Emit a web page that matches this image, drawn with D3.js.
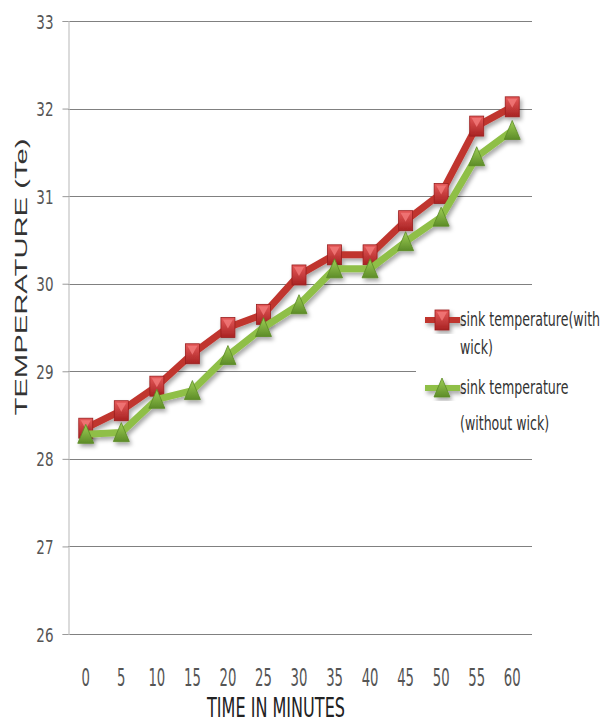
<!DOCTYPE html>
<html>
<head>
<meta charset="utf-8">
<script src="https://cdn.jsdelivr.net/npm/d3@7/dist/d3.min.js"></script>
<style>
  html, body { margin: 0; padding: 0; background: #fff; }
  svg { display: block; }
</style>
</head>
<body>
<svg id="chart" width="608" height="724"></svg>
<script>
// ---- data ----
const categories = ["0", "5", "10", "15", "20", "25", "30", "35", "40", "45", "50", "55", "60"];
const withWick = [28.35, 28.55, 28.83, 29.2, 29.5, 29.65, 30.1, 30.33, 30.33, 30.72, 31.03, 31.8, 32.02];
const withoutWick = [28.28, 28.3, 28.68, 28.78, 29.18, 29.5, 29.76, 30.17, 30.17, 30.48, 30.76, 31.45, 31.75];
const yTicks = [26, 27, 28, 29, 30, 31, 32, 33];
const seriesNames = [["sink temperature(with", "wick)"], ["sink temperature", "(without wick)"]];
const xTitle = "TIME IN MINUTES";
const yTitle = "TEMPERATURE (Te)";

const narrow = "'DejaVu Sans Condensed', 'Liberation Sans Narrow', sans-serif";
const svg = d3.select("#chart");
const x = d3.scaleBand().domain(categories).range([68, 530]);
const y = d3.scaleLinear().domain([26, 33]).range([634, 21]);
const cx = d => x(d) + x.bandwidth() / 2;

const defs = svg.append("defs");
const gR = defs.append("linearGradient").attr("id", "gRed").attr("x1", 0).attr("y1", 0).attr("x2", 0).attr("y2", 1);
gR.append("stop").attr("offset", "0%").attr("stop-color", "#e65a5a");
gR.append("stop").attr("offset", "100%").attr("stop-color", "#a82222");
const gG = defs.append("linearGradient").attr("id", "gGreen").attr("x1", 0).attr("y1", 0).attr("x2", 0).attr("y2", 1);
gG.append("stop").attr("offset", "0%").attr("stop-color", "#9fd056");
gG.append("stop").attr("offset", "100%").attr("stop-color", "#5d8c28");
const sh = defs.append("filter").attr("id", "shadow").attr("x", "-20%").attr("y", "-20%").attr("width", "140%").attr("height", "140%");
sh.append("feDropShadow").attr("dx", 2).attr("dy", 3).attr("stdDeviation", 2).attr("flood-color", "#000").attr("flood-opacity", 0.35);

// gridlines
svg.append("g").selectAll("line").data(yTicks).join("line")
  .attr("x1", 68).attr("x2", 532)
  .attr("y1", d => Math.round(y(d)) + 0.5).attr("y2", d => Math.round(y(d)) + 0.5)
  .attr("stroke", "#808080").attr("stroke-width", 1.2);

// y axis
const yAxis = d3.axisLeft(y).tickValues(yTicks).tickSize(6).tickPadding(9).tickFormat(d3.format("d"));
const gy = svg.append("g").attr("transform", "translate(68.5,0)").call(yAxis);
gy.select(".domain").attr("stroke", "#c4c4c4").attr("stroke-width", 1.2);
gy.selectAll(".tick line").attr("stroke", "#999");
gy.selectAll(".tick text")
  .attr("fill", "#555")
  .style("font-family", narrow)
  .style("font-size", "15px")
  .attr("dy", null)
  .attr("y", 0)
  .attr("transform", "translate(0,7) scale(1,1.3)");

// x axis labels (no line)
const xAxis = d3.axisBottom(x).tickSize(0).tickPadding(0);
const gx = svg.append("g").attr("transform", "translate(0,686)").call(xAxis);
gx.select(".domain").remove();
gx.selectAll(".tick text")
  .attr("fill", "#555")
  .attr("dy", null).attr("y", 0)
  .style("font-family", narrow)
  .style("font-size", "14px")
  .attr("transform", "scale(1.05,1.75)");

// axis titles
svg.append("text")
  .attr("transform", "translate(276,717) scale(1,1.6)")
  .attr("text-anchor", "middle")
  .attr("fill", "#222")
  .attr("textLength", 138).attr("lengthAdjust", "spacingAndGlyphs")
  .style("font-family", narrow)
  .style("font-size", "17px")
  .text(xTitle);

svg.append("text")
  .attr("transform", "translate(27,277) rotate(-90)")
  .attr("text-anchor", "middle")
  .attr("fill", "#333")
  .attr("textLength", 277).attr("lengthAdjust", "spacingAndGlyphs")
  .style("font-family", "'Liberation Sans', Arial, sans-serif")
  .style("font-size", "17px")
  .text(yTitle);

// legend background (breaks gridline)
svg.append("rect").attr("x", 416).attr("y", 300).attr("width", 192).attr("height", 145).attr("fill", "#fff");

// marker drawing
function redMarker(g) {
  g.append("rect").attr("x", -7).attr("y", -10).attr("width", 14).attr("height", 20)
    .attr("fill", "url(#gRed)").attr("stroke", "#9a1e1e").attr("stroke-width", 0.8);
  g.append("path").attr("d", "M-5,-8 L5,-8 L0,1 Z").attr("fill", "#f27a7a").attr("opacity", 0.8);
}
function greenMarker(g) {
  g.append("path").attr("d", "M0,-10 L8,9 L-8,9 Z")
    .attr("fill", "url(#gGreen)").attr("stroke", "#5a8a26").attr("stroke-width", 0.8);
}

const line = d3.line().x((d, i) => cx(categories[i])).y(d => y(d));

const series = [
  { vals: withWick, color: "#c0352f", marker: redMarker },
  { vals: withoutWick, color: "#8fbf47", marker: greenMarker }
];
series.forEach(s => {
  const g = svg.append("g").attr("filter", "url(#shadow)");
  g.append("path").datum(s.vals).attr("d", line)
    .attr("fill", "none").attr("stroke", s.color).attr("stroke-width", 7).attr("stroke-linejoin", "round");
  g.selectAll("g.m").data(s.vals).join("g").attr("class", "m")
    .attr("transform", (d, i) => `translate(${cx(categories[i])},${y(d)})`)
    .each(function () { s.marker(d3.select(this)); });
});

// legend
const legY = [320, 388];
const lineOffsets = [[6, 34], [6, 42]];
const legTexts = [];
series.forEach((s, i) => {
  const g = svg.append("g").attr("filter", "url(#shadow)");
  g.append("line").attr("x1", 425).attr("x2", 460).attr("y1", legY[i]).attr("y2", legY[i])
    .attr("stroke", s.color).attr("stroke-width", 6);
  const m = g.append("g").attr("transform", `translate(442,${legY[i]})`);
  s.marker(m);
  seriesNames[i].forEach((t, j) => {
    const el = svg.append("text")
      .attr("transform", `translate(460,${legY[i] + lineOffsets[i][j]}) scale(1,1.35)`)
      .attr("fill", "#333")
      .style("font-family", narrow)
      .style("font-size", "14px")
      .text(t);
    legTexts.push(el);
  });
});
// fit the longest legend line to the available width, same squeeze for all lines
const w0 = legTexts[0].node().getComputedTextLength();
const k = Math.min(1, 147 / w0);
legTexts.forEach(el => {
  const w = el.node().getComputedTextLength();
  el.attr("textLength", w * k).attr("lengthAdjust", "spacingAndGlyphs");
});
</script>
</body>
</html>
